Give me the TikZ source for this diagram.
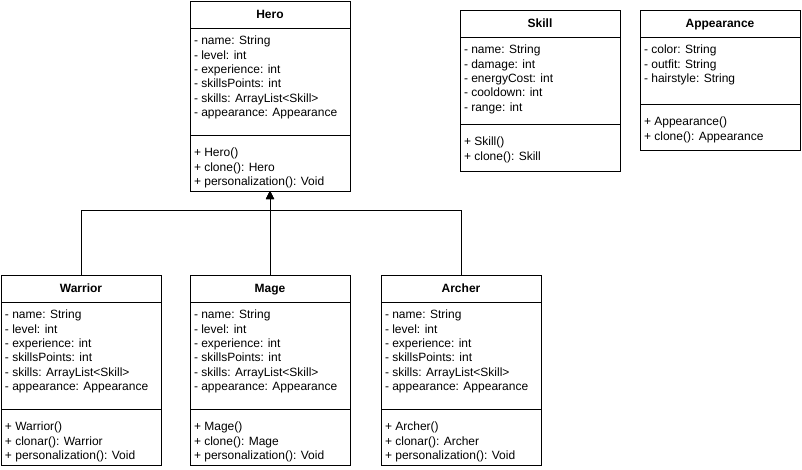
\documentclass[tikz,border=0pt]{standalone}
\usepackage{fontspec}
\setmainfont{Liberation Sans}
\usetikzlibrary{positioning}
\usetikzlibrary{arrows.meta}

% compartment: height, top gap, lines
\newcommand{\members}[3]{\parbox[c][#1][t]{152pt}{\vspace*{#2}#3}}

\begin{document}
\begin{tikzpicture}[x=1pt, y=-1pt,
    every node/.style={font=\fontsize{12}{14.4}\selectfont, outer sep=0pt},
    classname/.style={draw, line width=1pt, minimum width=160pt, minimum height=27pt, inner sep=0pt, text height=8pt, text depth=0pt, font=\fontsize{12}{14.4}\selectfont\bfseries},
    part/.style={draw, line width=1pt, inner xsep=4pt, inner ysep=0pt, align=left},
    extends/.style={line width=1pt, -{Triangle[length=8pt, width=8pt]}}]

    \useasboundingbox (0,0) rectangle (802,469);

    % superclass
    \node[classname] (hero) at (270,14.5) {Hero};
    \node[part, below=0pt of hero] (hero-attr) {\members{107pt}{8pt}{- name: String\\- level: int\\- experience: int\\- skillsPoints: int\\- skills: ArrayList<Skill>\\- appearance: Appearance}};
    \node[part, below=0pt of hero-attr] (hero-ops) {\members{56pt}{13pt}{+ Hero()\\+ clone(): Hero\\+ personalization(): Void}};

    % skill and appearance
    \node[classname] (skill) at (540,23.5) {Skill};
    \node[part, below=0pt of skill] (skill-attr) {\members{87pt}{8pt}{- name: String\\- damage: int\\- energyCost: int\\- cooldown: int\\- range: int}};
    \node[part, below=0pt of skill-attr] (skill-ops) {\members{47pt}{13pt}{+ Skill()\\+ clone(): Skill}};

    \node[classname] (look) at (720,23.5) {Appearance};
    \node[part, below=0pt of look] (look-attr) {\members{67pt}{8pt}{- color: String\\- outfit: String\\- hairstyle: String}};
    \node[part, below=0pt of look-attr] (look-ops) {\members{46pt}{13pt}{+ Appearance()\\+ clone(): Appearance}};

    % subclasses
    \node[classname] (warrior) at (81,288.5) {Warrior};
    \node[part, below=0pt of warrior] (warrior-attr) {\members{107pt}{8pt}{- name: String\\- level: int\\- experience: int\\- skillsPoints: int\\- skills: ArrayList<Skill>\\- appearance: Appearance}};
    \node[part, below=0pt of warrior-attr] (warrior-ops) {\members{56pt}{13pt}{+ Warrior()\\+ clonar(): Warrior\\+ personalization(): Void}};

    \node[classname] (mage) at (270,288.5) {Mage};
    \node[part, below=0pt of mage] (mage-attr) {\members{107pt}{8pt}{- name: String\\- level: int\\- experience: int\\- skillsPoints: int\\- skills: ArrayList<Skill>\\- appearance: Appearance}};
    \node[part, below=0pt of mage-attr] (mage-ops) {\members{56pt}{13pt}{+ Mage()\\+ clone(): Mage\\+ personalization(): Void}};

    \node[classname] (archer) at (461,288.5) {Archer};
    \node[part, below=0pt of archer] (archer-attr) {\members{107pt}{8pt}{- name: String\\- level: int\\- experience: int\\- skillsPoints: int\\- skills: ArrayList<Skill>\\- appearance: Appearance}};
    \node[part, below=0pt of archer-attr] (archer-ops) {\members{56pt}{13pt}{+ Archer()\\+ clonar(): Archer\\+ personalization(): Void}};

    % inheritance
    \coordinate (split) at (270,210);
    \draw[extends] (warrior.north) |- (split) -- (hero-ops.south);
    \draw[extends] (archer.north) |- (split) -- (hero-ops.south);
    \draw[extends] (mage.north) -- (hero-ops.south);
\end{tikzpicture}
\end{document}
